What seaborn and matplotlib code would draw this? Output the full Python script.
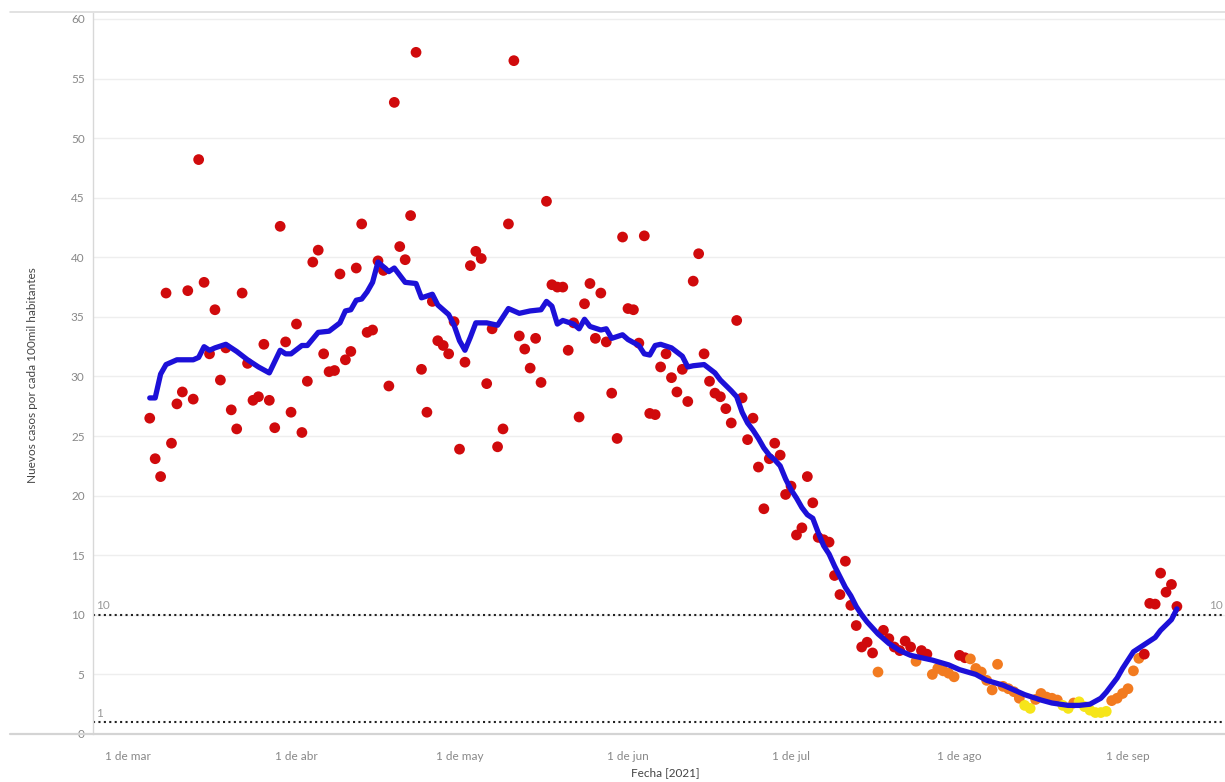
import pandas as pd
import numpy as np
import matplotlib.pyplot as plt
from matplotlib.lines import Line2D
import seaborn as sns

# ── Data ──────────────────────────────────────────────
inicio = '2021-03-05'
casos = [
    26.5, 23.1, 21.6, 37.0, 24.4, 27.7, 28.7, 37.2, 28.1, 48.2,
    37.9, 31.9, 35.6, 29.7, 32.4, 27.2, 25.6, 37.0, 31.1, 28.0,
    28.3, 32.7, 28.0, 25.7, 42.6, 32.9, 27.0, 34.4, 25.3, 29.6,
    39.6, 40.6, 31.9, 30.4, 30.5, 38.6, 31.4, 32.1, 39.1, 42.8,
    33.7, 33.9, 39.7, 38.9, 29.2, 53.0, 40.9, 39.8, 43.5, 57.2,
    30.6, 27.0, 36.3, 33.0, 32.6, 31.9, 34.6, 23.9, 31.2, 39.3,
    40.5, 39.9, 29.4, 34.0, 24.1, 25.6, 42.8, 56.5, 33.4, 32.3,
    30.7, 33.2, 29.5, 44.7, 37.7, 37.5, 37.5, 32.2, 34.5, 26.6,
    36.1, 37.8, 33.2, 37.0, 32.9, 28.6, 24.8, 41.7, 35.7, 35.6,
    32.8, 41.8, 26.9, 26.8, 30.8, 31.9, 29.9, 28.7, 30.6, 27.9,
    38.0, 40.3, 31.9, 29.6, 28.6, 28.3, 27.3, 26.1, 34.7, 28.2,
    24.7, 26.5, 22.4, 18.9, 23.1, 24.4, 23.4, 20.1, 20.8, 16.7,
    17.3, 21.6, 19.4, 16.5, 16.3, 16.1, 13.3, 11.7, 14.5, 10.8,
    9.1, 7.3, 7.7, 6.8, 5.2, 8.7, 8.0, 7.3, 7.0, 7.8,
    7.3, 6.1, 7.0, 6.7, 5.0, 5.5, 5.3, 5.1, 4.8, 6.6,
    6.4, 6.3, 5.5, 5.2, 4.5, 3.7, 5.85, 4.0, 3.8, 3.55,
    3.0, 2.4, 2.15, 2.9, 3.4, 3.1, 3.0, 2.85, 2.4, 2.15,
    2.6, 2.7, 2.3, 2.0, 1.8, 1.8, 1.9, 2.8, 3.0, 3.4,
    3.8, 5.3, 6.35, 6.7, 10.96, 10.9, 13.5, 11.9, 12.55, 10.7,
]
# r = rojo, o = naranja, y = amarillo
nivel = list("r" * 134 + "o" + "r" * 6 + "o" + "rr" + "ooooo" + "rr"
             + "o" * 10 + "yy" + "ooooo" + "yy" + "o" + "y" * 6
             + "o" * 6 + "r" * 7)

# promedio (dias desde 1 de marzo)
linea_dias = [4, 5, 6, 7, 8, 9, 11, 12, 13, 14, 15, 16, 18, 20, 22, 24, 26, 28, 29, 30,
              32, 33, 35, 37, 39, 40, 41, 42, 43, 44, 45, 46, 47, 48, 49, 51, 53, 54, 56, 57,
              59, 60, 61, 62, 63, 64, 66, 68, 70, 72, 74, 76, 77, 78, 79, 80, 82, 83, 84, 85,
              87, 88, 89, 91, 92, 94, 95, 96, 97, 98, 100, 102, 103, 104, 106, 108, 109, 111, 112, 113,
              114, 115, 116, 117, 118, 119, 120, 121, 122, 123, 124, 125, 126, 127, 128, 129, 130, 131, 132, 133,
              134, 135, 136, 137, 138, 139, 140, 141, 142, 144, 146, 148, 151, 153, 156, 158, 161, 163, 165, 168,
              170, 173, 175, 177, 179, 180, 182, 183, 185, 187, 189, 190, 192, 193]
linea_vals = [28.2, 28.2, 30.2, 31.0, 31.2, 31.4, 31.4, 31.4, 31.6, 32.5, 32.2, 32.4, 32.7, 32.1, 31.4, 30.8, 30.3, 32.2, 31.9, 31.9,
              32.6, 32.6, 33.7, 33.8, 34.5, 35.5, 35.6, 36.4, 36.5, 37.1, 37.9, 39.6, 39.2, 38.8, 39.1, 37.9, 37.8, 36.6, 36.9, 36.0,
              35.2, 34.3, 33.0, 32.2, 33.3, 34.5, 34.5, 34.3, 35.7, 35.3, 35.5, 35.6, 36.3, 35.9, 34.4, 34.7, 34.4, 34.0, 34.8, 34.2,
              33.9, 34.0, 33.2, 33.5, 33.1, 32.6, 31.9, 31.8, 32.6, 32.7, 32.4, 31.7, 30.8, 30.9, 31.0, 30.3, 29.7, 28.8, 28.3, 27.0,
              26.1, 25.5, 24.8, 24.0, 23.4, 23.0, 22.5, 21.4, 20.5, 19.8, 19.0, 18.4, 18.1, 16.9, 15.8, 15.1, 14.1, 13.2, 12.3, 11.6,
              10.7, 10.0, 9.4, 8.9, 8.4, 8.0, 7.6, 7.3, 7.0, 6.6, 6.4, 6.2, 5.8, 5.4, 5.0, 4.5, 4.1, 3.7, 3.3, 2.85,
              2.6, 2.4, 2.4, 2.5, 3.0, 3.5, 4.7, 5.5, 6.9, 7.5, 8.1, 8.7, 9.6, 10.5]

meses = ['1 de mar', '1 de abr', '1 de may', '1 de jun', '1 de jul', '1 de ago', '1 de sep']
mes_fechas = ['2021-03-01', '2021-04-01', '2021-05-01', '2021-06-01',
              '2021-07-01', '2021-08-01', '2021-09-01']
y_ticks = [0, 5, 10, 15, 20, 25, 30, 35, 40, 45, 50, 55, 60]
umbrales = [10, 1]

df = pd.DataFrame({
    'fecha': pd.date_range(inicio, periods=len(casos), freq='D'),
    'casos': casos,
    'nivel': nivel,
})
base = pd.Timestamp('2021-03-01')
prom = pd.DataFrame({
    'fecha': base + pd.to_timedelta(linea_dias, unit='D'),
    'valor': linea_vals,
})

# ── Plot ──────────────────────────────────────────────
sns.set_style('white')
plt.rcParams['font.family'] = ['Lato', 'DejaVu Sans']

W, H = 1225, 782
fig = plt.figure(figsize=(W / 100, H / 100), dpi=100)
ax = fig.add_axes([93 / W, 1 - 734 / H, 1 - 93 / W, (734 - 13) / H])

ax.grid(axis='y', color='#eeeeee', lw=1)
ax.set_axisbelow(True)

sns.scatterplot(data=df, x='fecha', y='casos', hue='nivel',
                palette={'r': '#d00a0c', 'o': '#f27b20', 'y': '#f6e51a'},
                s=60, linewidth=0, legend=False, zorder=3, ax=ax)
sns.lineplot(data=prom, x='fecha', y='valor', color='#1c10d8', lw=3.8,
             zorder=4, ax=ax)

for v in umbrales:
    ax.axhline(v, color='#222222', ls=(0, (1, 1.6)), lw=1.5, zorder=2)
    ax.text(0.003, v + 0.3, str(v), transform=ax.get_yaxis_transform(),
            fontsize=8.5, color='#999999', ha='left', va='bottom')
# right-side label, tucked against the edge
ax.text(0.9985, 10.3, '10', transform=ax.get_yaxis_transform(),
        fontsize=8.5, color='#999999', ha='right', va='bottom')

ax.set_ylim(0, 60.5)
ax.set_xlim(base - pd.Timedelta(days=6.44), base + pd.Timedelta(days=201.85))
ax.set_yticks(y_ticks)
ax.set_xticks(pd.to_datetime(mes_fechas))
ax.set_xticklabels(meses)
ax.tick_params(axis='both', length=0, labelsize=8.5, labelcolor='#888888')
ax.tick_params(axis='x', pad=12)
ax.tick_params(axis='y', pad=6)

ax.set_xlabel('Fecha [2021]', fontsize=8.5, color='#444444', va='center')
ax.set_ylabel('Nuevos casos por cada 100mil habitantes', fontsize=8.5,
              color='#444444', va='center')
ax.xaxis.set_label_coords((665 - 93) / 1132, (734 - 773) / 721)
ax.yaxis.set_label_coords((33 - 93) / 1132, 0.498)

for s in ['top', 'right', 'bottom']:
    ax.spines[s].set_visible(False)
ax.spines['left'].set_color('#d8d8d8')
ax.spines['left'].set_linewidth(1)

# base axis line and top separator like the dashboard
fig.add_artist(Line2D([10 / W, 1], [1 - 734 / H, 1 - 734 / H], color='#d4d4d4', lw=1.6))
fig.add_artist(Line2D([10 / W, 1], [1 - 12 / H, 1 - 12 / H], color='#dddddd', lw=1.2))

fig.savefig('out.png', dpi=100)
